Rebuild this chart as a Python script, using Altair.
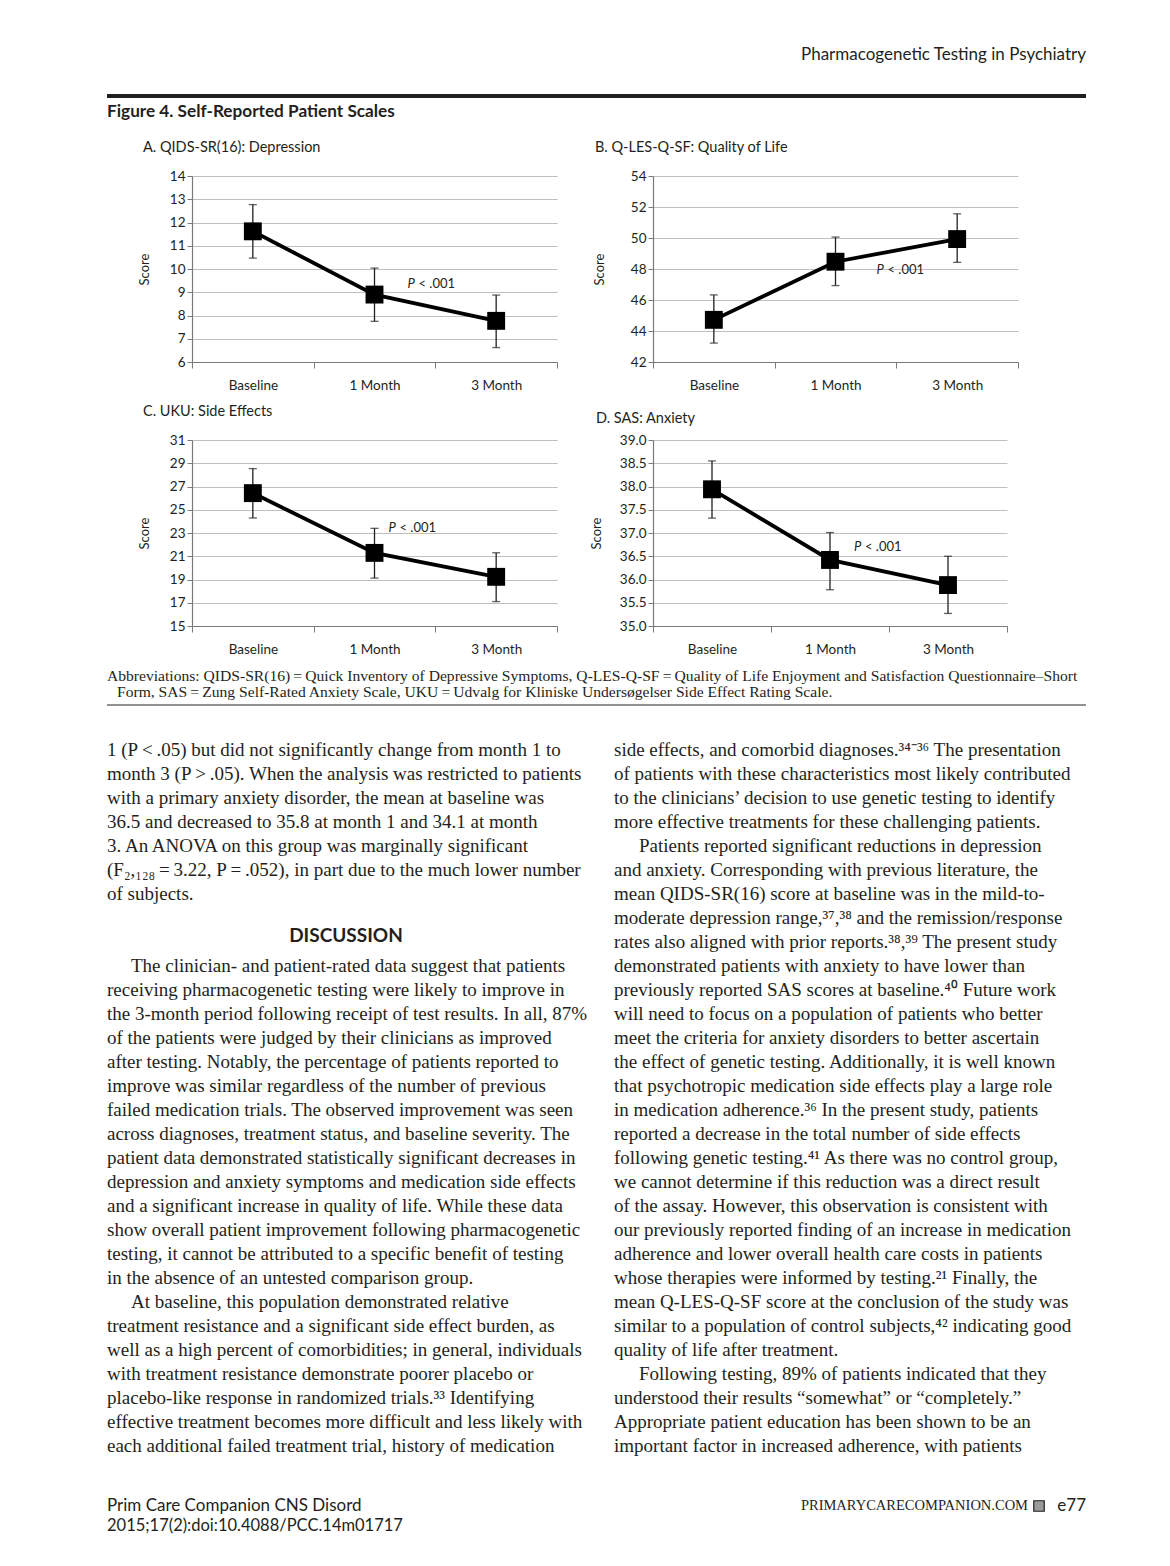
import altair as alt
import pandas as pd

SANS = "Lato"
SERIF = "Liberation Serif"
INK = "#231f20"
GRID = "#bfbfbf"
AXIS = "#7a7a7a"

# ---------------- data ----------------
categories = ["Baseline", "1 Month", "3 Month"]

qids_mean = [11.62, 8.90, 7.77]
qids_low = [10.47, 7.75, 6.62]
qids_high = [12.77, 10.04, 8.88]
qids_ticks = [6, 7, 8, 9, 10, 11, 12, 13, 14]

qles_mean = [44.72, 48.47, 49.93]
qles_low = [43.22, 46.93, 48.43]
qles_high = [46.33, 50.06, 51.56]
qles_ticks = [42, 44, 46, 48, 50, 52, 54]

uku_mean = [26.43, 21.29, 19.23]
uku_low = [24.29, 19.12, 17.10]
uku_high = [28.54, 23.40, 21.30]
uku_ticks = [15, 17, 19, 21, 23, 25, 27, 29, 31]

sas_mean = [37.94, 36.42, 35.88]
sas_low = [37.32, 35.78, 35.27]
sas_high = [38.55, 37.01, 36.50]
sas_ticks = [35.0, 35.5, 36.0, 36.5, 37.0, 37.5, 38.0, 38.5, 39.0]

p_label_pos = [9.37, 47.94, 23.46, 36.69]  # y value of the "P < .001" label per panel

running_head = "Pharmacogenetic Testing in Psychiatry"
figure_title = "Figure 4. Self-Reported Patient Scales"
panel_titles = ["A. QIDS-SR(16): Depression", "B. Q-LES-Q-SF: Quality of Life",
                "C. UKU: Side Effects", "D. SAS: Anxiety"]
abbreviations = [
    "Abbreviations: QIDS-SR(16)\u2009=\u2009Quick Inventory of Depressive Symptoms, Q-LES-Q-SF\u2009=\u2009Quality of Life Enjoyment and Satisfaction Questionnaire\u2013Short",
    "Form, SAS\u2009=\u2009Zung Self-Rated Anxiety Scale, UKU\u2009=\u2009Udvalg for Kliniske Unders\u00f8gelser Side Effect Rating Scale.",
]

left_lines = [
    (0, 0, "1 (P\u2009<\u2009.05) but did not significantly change from month 1 to"),
    (1, 0, "month 3 (P\u2009>\u2009.05). When the analysis was restricted to patients"),
    (2, 0, "with a primary anxiety disorder, the mean at baseline was"),
    (3, 0, "36.5 and decreased to 35.8 at month 1 and 34.1 at month"),
    (4, 0, "3. An ANOVA on this group was marginally significant"),
    (5, 0, "(F\u2082,\u2081\u2082\u2088\u2009=\u20093.22, P\u2009=\u2009.052), in part due to the much lower number"),
    (6, 0, "of subjects."),
    (9, 1, "The clinician- and patient-rated data suggest that patients"),
    (10, 0, "receiving pharmacogenetic testing were likely to improve in"),
    (11, 0, "the 3-month period following receipt of test results. In all, 87%"),
    (12, 0, "of the patients were judged by their clinicians as improved"),
    (13, 0, "after testing. Notably, the percentage of patients reported to"),
    (14, 0, "improve was similar regardless of the number of previous"),
    (15, 0, "failed medication trials. The observed improvement was seen"),
    (16, 0, "across diagnoses, treatment status, and baseline severity. The"),
    (17, 0, "patient data demonstrated statistically significant decreases in"),
    (18, 0, "depression and anxiety symptoms and medication side effects"),
    (19, 0, "and a significant increase in quality of life. While these data"),
    (20, 0, "show overall patient improvement following pharmacogenetic"),
    (21, 0, "testing, it cannot be attributed to a specific benefit of testing"),
    (22, 0, "in the absence of an untested comparison group."),
    (23, 1, "At baseline, this population demonstrated relative"),
    (24, 0, "treatment resistance and a significant side effect burden, as"),
    (25, 0, "well as a high percent of comorbidities; in general, individuals"),
    (26, 0, "with treatment resistance demonstrate poorer placebo or"),
    (27, 0, "placebo-like response in randomized trials.\u00b3\u00b3 Identifying"),
    (28, 0, "effective treatment becomes more difficult and less likely with"),
    (29, 0, "each additional failed treatment trial, history of medication"),
]

right_lines = [
    (0, 0, "side effects, and comorbid diagnoses.\u00b3\u2074\u207b\u00b3\u2076 The presentation"),
    (1, 0, "of patients with these characteristics most likely contributed"),
    (2, 0, "to the clinicians\u2019 decision to use genetic testing to identify"),
    (3, 0, "more effective treatments for these challenging patients."),
    (4, 1, "Patients reported significant reductions in depression"),
    (5, 0, "and anxiety. Corresponding with previous literature, the"),
    (6, 0, "mean QIDS-SR(16) score at baseline was in the mild-to-"),
    (7, 0, "moderate depression range,\u00b3\u2077,\u00b3\u2078 and the remission/response"),
    (8, 0, "rates also aligned with prior reports.\u00b3\u2078,\u00b3\u2079 The present study"),
    (9, 0, "demonstrated patients with anxiety to have lower than"),
    (10, 0, "previously reported SAS scores at baseline.\u2074\u2070 Future work"),
    (11, 0, "will need to focus on a population of patients who better"),
    (12, 0, "meet the criteria for anxiety disorders to better ascertain"),
    (13, 0, "the effect of genetic testing. Additionally, it is well known"),
    (14, 0, "that psychotropic medication side effects play a large role"),
    (15, 0, "in medication adherence.\u00b3\u2076 In the present study, patients"),
    (16, 0, "reported a decrease in the total number of side effects"),
    (17, 0, "following genetic testing.\u2074\u00b9 As there was no control group,"),
    (18, 0, "we cannot determine if this reduction was a direct result"),
    (19, 0, "of the assay. However, this observation is consistent with"),
    (20, 0, "our previously reported finding of an increase in medication"),
    (21, 0, "adherence and lower overall health care costs in patients"),
    (22, 0, "whose therapies were informed by testing.\u00b2\u00b9 Finally, the"),
    (23, 0, "mean Q-LES-Q-SF score at the conclusion of the study was"),
    (24, 0, "similar to a population of control subjects,\u2074\u00b2 indicating good"),
    (25, 0, "quality of life after treatment."),
    (26, 1, "Following testing, 89% of patients indicated that they"),
    (27, 0, "understood their results \u201csomewhat\u201d or \u201ccompletely.\u201d"),
    (28, 0, "Appropriate patient education has been shown to be an"),
    (29, 0, "important factor in increased adherence, with patients"),
]

section_heading = "DISCUSSION"
footer_left = ["Prim Care Companion CNS Disord", "2015;17(2):doi:10.4088/PCC.14m01717"]
footer_site = "PRIMARYCARECOMPANION.COM"
footer_page = "e77"


# ---------------- helpers ----------------
def txt(s, x, y, size, font=SANS, weight="normal", style="normal", align="left", color=INK):
    return alt.Chart(pd.DataFrame({"t": [s]})).mark_text(
        align=align, baseline="middle", font=font, fontSize=size,
        fontWeight=weight, fontStyle=style, color=color,
    ).encode(text="t:N", x=alt.value(x), y=alt.value(y))


def hrule(x1, x2, y, width, color):
    return alt.Chart(pd.DataFrame({"a": [0]})).mark_rule(color=color, strokeWidth=width).encode(
        x=alt.value(x1), x2=alt.value(x2), y=alt.value(y))


def panel(mean, low, high, ticks, fmt, p_y, p_dx, width, title_x, extras=()):
    df = pd.DataFrame({"cat": categories, "mean": mean, "low": low, "high": high})
    xaxis = alt.Axis(title=None, labelAngle=0, tickBand="extent", grid=False,
                     labelFont=SANS, labelFontSize=13.5, labelColor=INK, labelPadding=10,
                     tickSize=6, domainColor=AXIS, tickColor=AXIS, domainWidth=1.2)
    x = alt.X("cat:N", sort=categories,
              scale=alt.Scale(paddingInner=0, paddingOuter=0), axis=xaxis)
    yscale = alt.Scale(domain=[ticks[0], ticks[-1]], nice=False, zero=False)
    yaxis = alt.Axis(values=ticks, format=fmt, title="Score", titleFont=SANS, titleFontSize=13,
                     titleFontWeight="normal", titleColor=INK, titleX=title_x, titleY=93,
                     titleAngle=270, titleBaseline="middle", titleAlign="center",
                     labelFont=SANS, labelFontSize=13.5, labelColor=INK, labelPadding=2,
                     tickSize=5, gridColor=GRID, gridWidth=1.2, domainColor=AXIS,
                     tickColor=AXIS, domainWidth=1.2)
    y = lambda f: alt.Y(f, scale=yscale, axis=yaxis)
    base = alt.Chart(df)
    bars = base.mark_rule(color=INK, strokeWidth=1.3).encode(x=x, y=y("low:Q"), y2="high:Q")
    cap_lo = base.mark_tick(color=INK, size=8, thickness=1.3).encode(x=x, y=y("low:Q"))
    cap_hi = base.mark_tick(color=INK, size=8, thickness=1.3).encode(x=x, y=y("high:Q"))
    line = base.mark_line(color="#000000", strokeWidth=3.8).encode(x=x, y=y("mean:Q"))
    pts = base.mark_square(color="#000000", size=320, opacity=1).encode(x=x, y=y("mean:Q"))
    pdf = pd.DataFrame({"cat": ["1 Month"], "y": [p_y], "p": ["P"], "rest": ["< .001"]})
    p1 = alt.Chart(pdf).mark_text(align="left", baseline="middle", dx=p_dx, font=SANS,
                                  fontSize=13, fontStyle="italic", color=INK).encode(
        x=x, y=y("y:Q"), text="p:N")
    p2 = alt.Chart(pdf).mark_text(align="left", baseline="middle", dx=p_dx + 11, font=SANS,
                                  fontSize=13, color=INK).encode(
        x=x, y=y("y:Q"), text="rest:N")
    return alt.layer(bars, cap_lo, cap_hi, line, pts, p1, p2, *extras).properties(
        width=width, height=186)


# ---------------- page text attached to the panels ----------------
# page frame (transparent) so that the page origin sits at the top-left corner
frame = alt.Chart(pd.DataFrame({"a": [0]})).mark_rect(fillOpacity=0, strokeOpacity=0).encode(
    x=alt.value(-184), x2=alt.value(970), y=alt.value(-168), y2=alt.value(1378))

header_parts = [
    frame,
    txt(running_head, 894, -121, 17, align="right"),
    hrule(-85, 894, -80, 4, INK),
    txt(figure_title, -85, -64, 17.2, weight="bold"),
    txt(panel_titles[0], -49, -28, 14.5),
    txt(panel_titles[1], 403, -28, 14.5),
]


def column(lines, indent, x):
    df = pd.DataFrame([{"line": l, "t": t} for (l, ind, t) in lines if ind == indent])
    return alt.Chart(df).mark_text(
        align="left", baseline="middle", font=SERIF, fontSize=19, color=INK
    ).transform_calculate(py="310 + 24 * datum.line").encode(
        x=alt.value(x), y=alt.Y("py:Q", scale=None), text="t:N")


lower_parts = [
    txt(panel_titles[2], -49, -28, 14.5),
    txt(panel_titles[3], 404, -21, 14.5),
    txt(abbreviations[0], -85, 236, 15.6, font=SERIF),
    txt(abbreviations[1], -75, 252, 15.6, font=SERIF),
    hrule(-85, 894, 265, 1.5, "#6d6d6d"),
    column(left_lines, 0, -85),
    column(left_lines, 1, -61),
    column(right_lines, 0, 422),
    column(right_lines, 1, 447),
    txt(section_heading, 154, 496, 19, weight="bold", align="center"),
    txt(footer_left[0], -85, 1066, 17),
    txt(footer_left[1], -85, 1086, 16.5),
    txt(footer_site, 836, 1066, 14.5, font=SERIF, align="right"),
    alt.Chart(pd.DataFrame({"a": [0]})).mark_square(
        size=110, color="#9a9a9a", stroke=INK, strokeWidth=1.2, opacity=1
    ).encode(x=alt.value(847), y=alt.value(1066)),
    txt(footer_page, 894, 1066, 17, align="right"),
]

pa = panel(qids_mean, qids_low, qids_high, qids_ticks, "d", p_label_pos[0], 33, 365, -48,
           extras=header_parts)
pb = panel(qles_mean, qles_low, qles_high, qles_ticks, "d", p_label_pos[1], 41, 365, -54)
pc = panel(uku_mean, uku_low, uku_high, uku_ticks, "d", p_label_pos[2], 14, 365, -48,
           extras=lower_parts)
pd_ = panel(sas_mean, sas_low, sas_high, sas_ticks, ".1f", p_label_pos[3], 24, 354, -57)

chart = alt.concat(
    pa, pb, pc, pd_, columns=2, bounds="flush", spacing={"row": 78, "column": 96}
).properties(padding=0).configure_view(stroke=None).configure_text(font=SANS)

chart.save("out.html", embed_options={"renderer": "svg", "actions": False})
